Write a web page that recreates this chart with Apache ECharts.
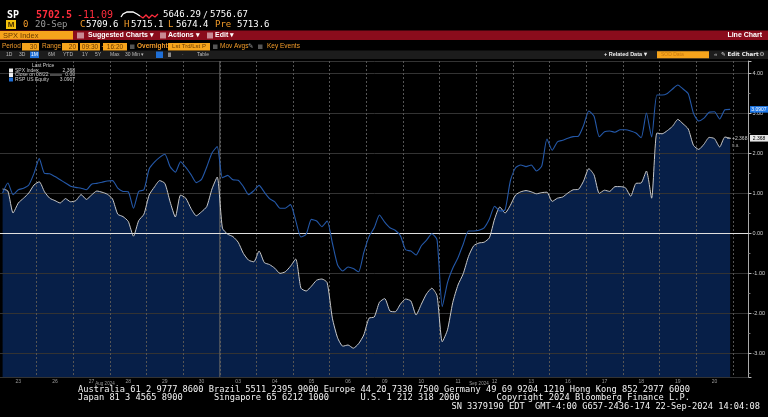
<!DOCTYPE html>
<html>
<head>
<meta charset="utf-8">
<script src="https://cdn.jsdelivr.net/npm/echarts@6/dist/echarts.min.js"></script>
<style>
html,body{margin:0;padding:0;background:#000;}
#c{width:768px;height:417px;}
</style>
</head>
<body>
<div id="c"></div>
<script>
// ---- data ----
const days = ['23','26','27','28','29','30','03','04','05','06','09','10','11','12','13','16','17','18','19','20'];
const monthLabels = ['Aug 2024','Sep 2024'];
const yTicks = [-3,-2,-1,0,1,2,3,4];
// SPX Index, % change vs close on 08/22 (7 readings per trading day)
const spx = [
 1.1, 1.05, 0.5, 0.75, 0.87, 1.0, 1.2,
 1.28, 1.03, 0.87, 0.81, 0.75, 0.86, 0.78,
 0.81, 0.96, 0.84, 0.95, 1.05, 1.02, 0.97,
 0.85, 0.47, 0.41, 0.29, -0.08, 0.31, 0.47,
 0.95, 1.15, 1.31, 1.24, 0.78, 0.4, 0.95,
 0.87, 0.61, 0.43, 0.53, 0.66, 1.1, 1.4,
 0.12, -0.03, -0.09, -0.23, -0.51, -0.68, -0.72,
 -0.45, -0.74, -0.79, -0.88, -1.01, -0.97, -0.83,
 -0.65, -1.38, -1.45, -1.33, -1.18, -1.15, -1.24,
 -2.13, -2.62, -2.83, -2.8, -2.88, -2.77, -2.55,
 -2.13, -2.1, -1.73, -1.64, -1.95, -1.97, -1.78,
 -1.65, -1.7, -2.05, -1.78, -1.52, -1.38, -1.57,
 -2.72, -2.42, -1.74, -1.3, -1.02, -0.59, -0.32,
 -0.25, -0.23, -0.12, 0.35, 0.65, 0.5, 0.69,
 0.95, 1.03, 1.06, 1.03, 0.98, 1.01, 1.02,
 0.79, 0.87, 0.9, 1.0, 1.08, 1.09, 1.3,
 1.61, 1.45, 0.99, 1.07, 1.04, 1.16, 1.16,
 1.13, 0.92, 1.24, 1.25, 1.55, 0.87, 2.5,
 2.48, 2.56, 2.67, 2.84, 2.73, 2.6, 2.19,
 2.09, 2.22, 2.39, 2.36, 2.15, 2.4, 2.368
];
// RSP US Equity, % change
const rsp = [
 1.0, 1.25, 0.96, 1.08, 1.12, 1.2, 1.49,
 1.86, 1.49, 1.48, 1.41, 1.33, 1.25, 1.17,
 1.14, 1.12, 1.08, 1.22, 1.24, 1.27, 1.3,
 1.31, 1.12, 1.04, 1.03, 0.62, 1.04, 1.08,
 1.6, 1.77, 1.89, 1.97, 1.66, 1.52, 1.78,
 1.64, 1.46, 1.26, 1.34, 1.65, 2.0, 2.16,
 1.38, 1.44, 1.33, 1.32, 1.16, 0.96, 1.06,
 1.19, 1.02, 0.86, 0.78, 0.62, 0.62, 0.71,
 0.31, -0.1, -0.03, 0.34, 0.3, 0.16, 0.3,
 -0.25, -0.8, -0.95, -0.85, -0.89, -0.97, -0.49,
 -0.09, 0.13, 0.45, 0.27, 0.13, 0.07, -0.07,
 -0.42, -0.45, -0.55, -0.32, -0.18, -0.02, -0.17,
 -1.84, -1.24, -0.88, -0.62, -0.28, 0.05, 0.05,
 0.07, 0.13, 0.35, 0.67, 0.55, 0.58, 1.3,
 1.63, 1.7, 1.66, 1.7, 1.55, 1.67, 2.35,
 2.07, 2.28, 2.32, 2.37, 2.41, 2.42, 2.69,
 3.05, 2.92, 2.41, 2.53, 2.55, 2.52, 2.58,
 2.58, 2.55, 2.5, 2.38, 3.0, 2.4, 3.45,
 3.45, 3.49, 3.6, 3.7, 3.6, 3.48, 2.99,
 2.8, 2.87, 3.02, 3.03, 2.85, 3.08, 3.0907
];
const closeRef = 0.0;
const PER_DAY = 7;

// ---- build categories ----
const cats = [];
days.forEach(d => { for (let k = 0; k < PER_DAY; k++) cats.push(d + '-' + k); });
for (let k = 0; k < 3; k++) cats.push('pad-' + k);

const mono = "'DejaVu Sans Mono', 'Liberation Mono', monospace";
const sans = "'Liberation Sans', Arial, sans-serif";
const chart = echarts.init(document.getElementById('c'), null, {renderer: 'canvas'});

const option = {
  backgroundColor: '#000',
  animation: false,
  grid: {left: 0, right: 19, top: 61, bottom: 40},
  xAxis: {
    type: 'category', data: cats, boundaryGap: true, z: 3,
    axisLine: {show: false}, axisTick: {show: false},
    axisLabel: {
      interval: (i) => i % PER_DAY === 3,
      formatter: (v) => v.split('-')[0],
      color: '#9a9a9a', fontSize: 5, margin: 2, fontFamily: sans
    },
    splitLine: {show: true, interval: (i) => i % PER_DAY === 0 && i > 0,
      lineStyle: {color: '#555', width: 1, type: [2, 2]}}
  },
  yAxis: {
    type: 'value', position: 'right', min: -3.6, max: 4.3, splitNumber: 8, z: 3,
    axisLine: {show: true, lineStyle: {color: '#aaa', width: 1}},
    axisTick: {show: true, length: 3, lineStyle: {color: '#bbb'}},
    minorTick: {show: true, splitNumber: 2, length: 2, lineStyle: {color: '#777'}},
    axisLabel: {
      color: '#d0d0d0', fontSize: 5.5, margin: 4, fontFamily: sans,
      formatter: (v) => yTicks.some(t => Math.abs(t - v) < 1e-6) ? v.toFixed(2) : ''
    },
    splitLine: {show: true, lineStyle: {color: '#333', width: 1}}
  },
  series: [
    {name: 'SPX area', type: 'line', data: spx, symbol: 'none', silent: true, z: 1,
     lineStyle: {width: 0, opacity: 0}, areaStyle: {color: '#071f48', opacity: 1, origin: 'start'}},
    {name: 'SPX Index', type: 'line', data: spx, symbol: 'none', z: 5, smooth: 0.2,
     lineStyle: {color: '#c8c8c8', width: 1},
     markLine: {silent: true, symbol: 'none', label: {show: false},
       lineStyle: {color: '#e0e0e0', width: 1, type: 'solid'},
       data: [{yAxis: closeRef}]}},
    {name: 'RSP US Equity', type: 'line', data: rsp, symbol: 'none', z: 5, smooth: 0.2,
     lineStyle: {color: '#2458a8', width: 1.1}}
  ]
};
chart.setOption(option);

// ---- helpers for the terminal chrome ----
function T(text, x, y, fill, size, o) {
  o = o || {};
  const a = o.a || 'left';
  return {type: 'text', x: x, y: y, z: 100, silent: true,
    style: {text: text, fill: fill, font: (o.w || 'normal') + ' ' + size + 'px ' + (o.f || sans),
      textAlign: a, align: a, textVerticalAlign: 'middle', verticalAlign: 'middle'}};
}
function R(x, y, w, h, fill, z) {
  return {type: 'rect', z: z || 90, silent: true, shape: {x: x, y: y, width: w, height: h}, style: {fill: fill}};
}
function L(x1, y1, x2, y2, stroke, z, dash) {
  return {type: 'line', z: z || 95, silent: true, shape: {x1: x1, y1: y1, x2: x2, y2: y2},
    style: {stroke: stroke, lineWidth: 1, lineDash: dash || null}};
}
const OR = '#f39c2a', BOX = '#f6a41c', BTXT = '#6a3a00';
const spxLast = spx[spx.length - 1], rspLast = rsp[rsp.length - 1];
const yS = chart.convertToPixel({yAxisIndex: 0}, spxLast);
const yR = chart.convertToPixel({yAxisIndex: 0}, rspLast);
const xa = chart.convertToPixel({xAxisIndex: 0}, cats[6 * PER_DAY - 1]);
const xb = chart.convertToPixel({xAxisIndex: 0}, cats[6 * PER_DAY]);
const xSep = (xa + xb) / 2;
const yTop = chart.convertToPixel({yAxisIndex: 0}, 4.3);
const yBot = chart.convertToPixel({yAxisIndex: 0}, -3.6);

const g = [];
// row 1
g.push(T('SP', 7, 15, '#fff', 10, {w: 'bold', f: mono}));
g.push(T('5702.5', 36, 15, '#ff2d3d', 10, {w: 'bold', f: mono}));
g.push(T('-11.09', 77, 15, '#ff2d3d', 10, {f: mono}));
g.push({type: 'polyline', z: 100, silent: true, shape: {points: [[121,17],[123,14],[127,12],[133,12],[137,14],[140,16]]}, style: {stroke: '#fff', lineWidth: 1.3, fill: null}});
g.push({type: 'polyline', z: 100, silent: true, shape: {points: [[140,16],[143,18],[146,15],[149,18],[152,15],[155,17],[158,14]]}, style: {stroke: '#ff2d3d', lineWidth: 1.3, fill: null}});
g.push(T('5646.29', 163, 15, '#fff', 9, {f: mono}));
g.push(T('/', 203, 15.5, '#fff', 8, {f: mono}));
g.push(T('5756.67', 210, 15, '#fff', 9, {f: mono}));
// row 2
g.push(R(6, 20, 10, 9, '#f4c20d'));
g.push(T('M', 11, 24.7, '#4a3000', 8, {w: 'bold', a: 'center'}));
g.push(T('0', 23, 24.7, OR, 9, {f: mono}));
g.push(T('20-Sep', 35, 24.7, '#9a9a9a', 9, {f: mono}));
g.push(T('C', 80, 24.7, OR, 9, {f: mono}));
g.push(T('5709.6', 86, 24.7, '#fff', 9, {f: mono}));
g.push(T('H', 124, 24.7, OR, 9, {f: mono}));
g.push(T('5715.1', 131, 24.7, '#fff', 9, {f: mono}));
g.push(T('L', 168, 24.7, OR, 9, {f: mono}));
g.push(T('5674.4', 176, 24.7, '#fff', 9, {f: mono}));
g.push(T('Pre', 215, 24.7, OR, 9, {f: mono}));
g.push(T('5713.6', 237, 24.7, '#fff', 9, {f: mono}));
// row 3 (red bar)
g.push(R(0, 30.5, 768, 9.5, '#8a0c1c', 80));
g.push(R(0, 31, 73, 8.5, BOX));
g.push(T('SPX Index', 3, 35.5, BTXT, 7.5));
g.push(R(77, 32.5, 7, 6, '#c98a94'));
g.push(T('Suggested Charts \u25BE', 88, 35.5, '#fff', 7, {w: 'bold'}));
g.push(R(160, 32.5, 6, 6, '#c98a94'));
g.push(T('Actions \u25BE', 168, 35.5, '#fff', 7, {w: 'bold'}));
g.push(R(207, 32.5, 6, 6, '#c98a94'));
g.push(T('Edit \u25BE', 215, 35.5, '#fff', 7, {w: 'bold'}));
g.push(T('Line Chart', 762, 35.5, '#fff', 7, {w: 'bold', a: 'right'}));
// row 4
g.push(T('Period', 2, 46.7, OR, 6.5));
g.push(R(22, 43, 17, 7.5, BOX)); g.push(T('30', 37, 46.8, BTXT, 6.5, {a: 'right'}));
g.push(T('Range', 42, 46.7, OR, 6.5));
g.push(R(62, 43, 16, 7.5, BOX)); g.push(T('20', 76, 46.8, BTXT, 6.5, {a: 'right'}));
g.push(R(80, 43, 20, 7.5, BOX)); g.push(T('09:30', 90, 46.8, BTXT, 6.5, {a: 'center'}));
g.push(T('-', 101.5, 46.7, OR, 6.5));
g.push(R(103, 43, 24, 7.5, BOX)); g.push(T('16:20', 115, 46.8, BTXT, 6.5, {a: 'center'}));
g.push(R(130, 44.5, 4.5, 4.5, '#555'));
g.push(T('Overnight', 137, 46.7, OR, 6.5, {w: 'bold'}));
g.push(R(168, 43, 42, 7.5, BOX)); g.push(T('Lst Trd/Lst P', 189, 46.8, BTXT, 6, {a: 'center'}));
g.push(R(213, 44.5, 4.5, 4.5, '#555'));
g.push(T('Mov Avgs', 220, 46.7, OR, 6.5));
g.push(T('\u270E', 248, 46.7, '#aaa', 6.5, {f: "'DejaVu Sans', sans-serif"}));
g.push(R(258, 44.5, 4.5, 4.5, '#555'));
g.push(T('Key Events', 267, 46.7, OR, 6.5));
// row 5
g.push(R(0, 50.5, 768, 8.5, '#1c1c1c', 80));
const r5 = [['1D',6],['3D',19],['6M',48],['YTD',63],['1Y',82],['5Y',95],['Max',110],['30 Min \u25BE',125],['\u00B7',182],['Table',197]];
r5.forEach(p => g.push(T(p[0], p[1], 54.8, '#bbb', 5)));
g.push(R(30, 51.5, 9, 6.5, '#1f6fd6')); g.push(T('1M', 34.5, 54.8, '#fff', 5, {a: 'center'}));
g.push(R(156, 51.5, 7, 6.5, '#1f6fd6'));
g.push(R(168, 52.5, 3, 4.5, '#888'));
g.push(T('+ Related Data \u25BE', 604, 54.8, '#eee', 5.5, {w: 'bold'}));
g.push(R(657, 51.3, 52, 7, BOX)); g.push(T('SOD Data', 661, 54.8, '#c77a10', 5));
g.push(T('\u00AB', 714, 54.8, '#bbb', 6));
g.push(T('\u270E Edit Chart', 721, 54.8, '#eee', 5.5, {w: 'bold', f: "'DejaVu Sans', sans-serif"}));
g.push(T('\u2699', 762, 54.8, '#bbb', 6, {a: 'center', f: "'DejaVu Sans', sans-serif"}));
// legend (inside plot)
g.push(T('Last Price', 32, 66, '#ccc', 5));
g.push(R(9, 68.5, 4, 4, '#eee', 100)); g.push(T('SPX Index', 15, 70.6, '#ccc', 5)); g.push(T(spxLast.toFixed(3), 75, 70.6, '#ccc', 5, {a: 'right'}));
g.push(R(9, 73, 4, 4, '#eee', 100)); g.push(T('Close on 08/22', 15, 75.1, '#ccc', 5)); g.push(L(50, 75, 62, 75, '#999', 100)); g.push(T(closeRef.toFixed(2), 75, 75.1, '#ccc', 5, {a: 'right'}));
g.push(R(9, 77.5, 4, 4, '#1f6fd6', 100)); g.push(T('RSP US Equity', 15, 79.6, '#ccc', 5)); g.push(T(rspLast.toFixed(4), 75, 79.6, '#ccc', 5, {a: 'right'}));
// month boundary
g.push(L(xSep, yTop, xSep, yBot, '#666', 3));
// month labels
g.push(T(monthLabels[0], 105, 384, '#999', 4.5, {a: 'center'}));
g.push(T(monthLabels[1], 479, 384, '#999', 4.5, {a: 'center'}));
// last value tags
g.push(R(750, yR - 3.3, 18, 6.6, '#1f78e8', 100));
g.push(T(rspLast.toFixed(4), 759, yR, '#fff', 5, {a: 'center'}));
g.push(R(750, yS - 3.3, 18, 6.6, '#e6e6e6', 100));
g.push(T(spxLast.toFixed(3), 759, yS, '#000', 5, {a: 'center'}));
g.push(L(727, yS, 731, yS, '#aaa', 100));
g.push(T('+' + spxLast.toFixed(3), 732, yS + 0.5, '#ccc', 5));
g.push(T('n.a.', 732, yS + 7, '#999', 4.5));
// footer
const f1 = 'Australia 61 2 9777 8600 Brazil 5511 2395 9000 Europe 44 20 7330 7500 Germany 49 69 9204 1210 Hong Kong 852 2977 6000';
const f2 = 'Japan 81 3 4565 8900      Singapore 65 6212 1000      U.S. 1 212 318 2000       Copyright 2024 Bloomberg Finance L.P.';
const f3 = 'SN 3379190 EDT  GMT-4:00 G657-2436-174 22-Sep-2024 14:04:08';
g.push(T(f1, 78, 390, '#f2f2f2', 8.7, {f: mono}));
g.push(T(f2, 78, 398, '#f2f2f2', 8.7, {f: mono}));
g.push(T(f3, 760, 406.5, '#f2f2f2', 8.7, {f: mono, a: 'right'}));

chart.setOption({graphic: {elements: g}});
</script>
</body>
</html>
